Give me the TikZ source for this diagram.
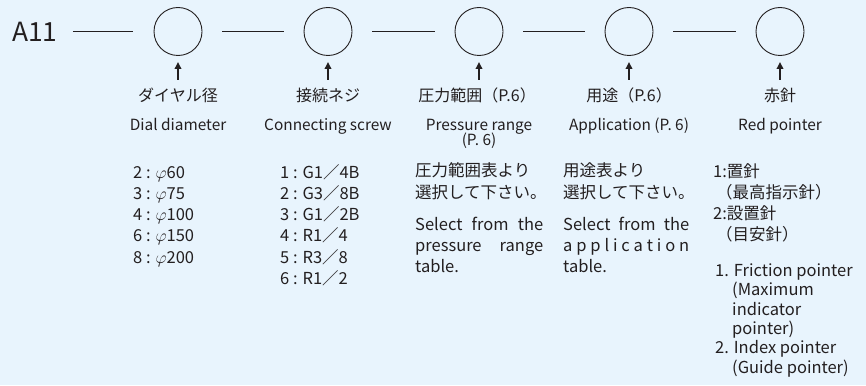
\documentclass[tikz,border=0pt]{standalone}
\usepackage{fontspec}
\setmainfont{Noto Sans CJK JP}
\usetikzlibrary{arrows.meta}
\definecolor{bgblue}{HTML}{E8F4FD}
\definecolor{ink}{HTML}{231F20}
\begin{document}
\begin{tikzpicture}[x=1pt,y=-1pt,
  dial/.style={circle,draw=ink,line width=0.9pt,minimum size=48pt,inner sep=0pt},
  link/.style={draw=ink,line width=0.9pt,shorten <=20pt,shorten >=20pt},
  uparrow/.style={draw=ink,line width=2pt,-{Triangle[width=6.5pt,length=7pt]}},
  jp/.style={anchor=base,font=\fontsize{16}{18}\selectfont,text=ink,inner sep=0pt},
  en/.style={anchor=base,font=\fontsize{15.4}{18}\selectfont,text=ink,inner sep=0pt},
  item/.style={anchor=base west,font=\fontsize{16.5}{18}\selectfont,text=ink,inner sep=0pt}]
\fill[bgblue] (0,0) rectangle (866,385);
\useasboundingbox (0,0) rectangle (866,385);
\node[anchor=base west,font=\fontsize{26.4}{30}\selectfont,text=ink,inner sep=0pt] (a11) at (12,42) {A11};
\foreach \i/\x in {1/178,2/328,3/479,4/629,5/780}{
  \node[dial] (c\i) at (\x,31.5) {};
  \coordinate (t\i) at (\x,62);
  \coordinate (b\i) at (\x,80);
  \draw[uparrow] (b\i) -- (t\i);
}
\draw[draw=ink,line width=0.9pt,shorten <=15pt,shorten >=21pt] (a11.east |- c1) -- (c1.west);
\draw[link] (c1.east) -- (c2.west);
\draw[link] (c2.east) -- (c3.west);
\draw[link] (c3.east) -- (c4.west);
\draw[link] (c4.east) -- (c5.west);
% labels
\node[jp] (j1) at (178,102) {ダイヤル径};
\node[jp] (j2) at (328,102) {接続ネジ};
\node[jp] (j3) at (477,102) {圧力範囲（P.6）};
\node[jp] (j4) at (629,102) {用途（P.6）};
\node[jp] (j5) at (780,102) {赤針};
\node[en] (e1) at (178,130) {Dial diameter};
\node[en] (e2) at (328,130) {Connecting screw};
\node[en] (e3) at (479,130) {Pressure range};
\node[en] (e3b) at (479,145) {(P. 6)};
\node[en] (e4) at (629,130) {Application (P. 6)};
\node[en] (e5) at (780,130) {Red pointer};
% dial list
\foreach \n/\t/\y in {d1/{2 : $\varphi$60}/178, d2/{3 : $\varphi$75}/199.25, d3/{4 : $\varphi$100}/220.5, d4/{6 : $\varphi$150}/241.75, d5/{8 : $\varphi$200}/263}{
  \node[item] (\n) at (133,\y) {\t};
}
\foreach \n/\t/\y in {s1/{1 : G1／4B}/178, s2/{2 : G3／8B}/199.25, s3/{3 : G1／2B}/220.5, s4/{4 : R1／4}/241.75, s5/{5 : R3／8}/263, s6/{6 : R1／2}/284.25}{
  \node[item] (\n) at (280,\y) {\t};
}
% pressure
\node[item] (p1) at (415,176) {圧力範囲表より};
\node[item] (p2) at (415,198) {選択して下さい。};
\node[item] (p3) at (415,230) {\hbox to 128pt{Select\hfil from\hfil the}};
\node[item] (p4) at (415,251) {\hbox to 128pt{pressure\hfil range}};
\node[item] (p5) at (415,272) {table.};
% application
\node[item] (q1) at (563,176) {用途表より};
\node[item] (q2) at (563,198) {選択して下さい。};
\node[item] (q3) at (563,230) {\hbox to 126pt{Select\hfil from\hfil the}};
\node[item] (q4) at (563,251) {\hbox to 126pt{a\hfil p\hfil p\hfil l\hfil i\hfil c\hfil a\hfil t\hfil i\hfil o\hfil n}};
\node[item] (q5) at (563,272) {table.};
% red pointer
\node[item] (r1) at (713,177) {1:置針};
\node[item] (r2) at (716,198) {（最高指示針）};
\node[item] (r3) at (713,219) {2:設置針};
\node[item] (r4) at (716,240) {（目安針）};
\node[item] (r5) at (715,276.5) {1. Friction pointer};
\node[item] (r6) at (732,295.8) {(Maximum};
\node[item] (r7) at (732,315.1) {indicator};
\node[item] (r8) at (732,334.4) {pointer)};
\node[item] (r9) at (715,353.7) {2. Index pointer};
\node[item] (r10) at (732,373) {(Guide pointer)};
\end{tikzpicture}
\end{document}
